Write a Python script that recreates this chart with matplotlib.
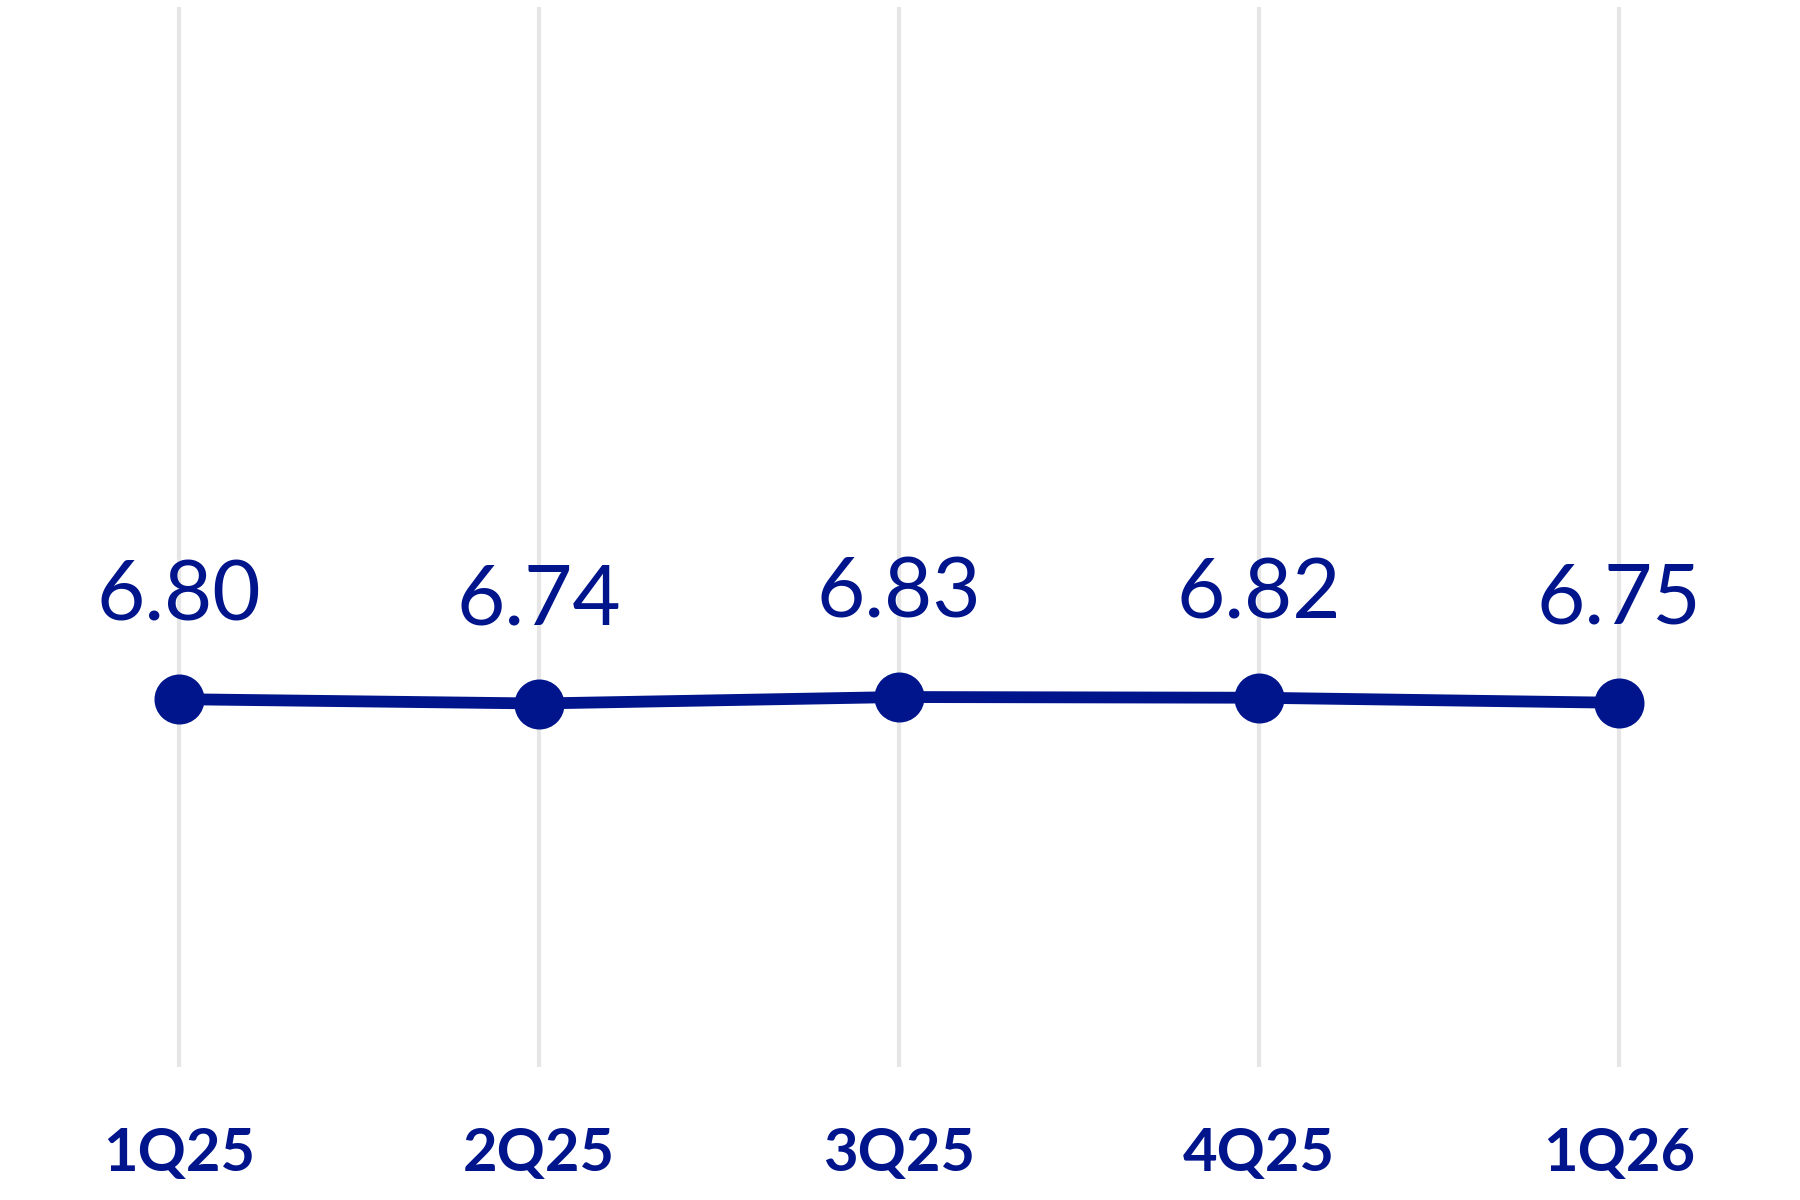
import matplotlib.pyplot as plt
import numpy as np
from matplotlib.transforms import blended_transform_factory

# Quarterly values
quarters = ["1Q25", "2Q25", "3Q25", "4Q25", "1Q26"]
values = [6.80, 6.74, 6.83, 6.82, 6.75]

NAVY = "#00148C"
GRID = "#E6E6E6"

plt.rcParams["font.family"] = ["Lato", "DejaVu Sans"]

fig = plt.figure(figsize=(18, 12), dpi=100)
ax = fig.add_axes([0, 0.111, 1, 0.883])

x = np.arange(len(quarters))

# vertical guide lines at every quarter
ax.vlines(x, 0, 1, transform=blended_transform_factory(ax.transData, ax.transAxes),
          colors=GRID, linewidth=3, zorder=0)

ax.plot(x, values, color=NAVY, linewidth=8.5, marker="o", markersize=35,
        solid_capstyle="butt", zorder=3)

for xi, v in zip(x, values):
    ax.annotate(f"{v:.2f}", (xi, v), xytext=(0, 57), textcoords="offset points",
                ha="center", va="baseline", fontsize=60, color=NAVY)

ax.set_xlim(-0.497, 4.503)
ax.set_ylim(1.7, 16.4)

ax.set_xticks(x)
ax.set_xticklabels(quarters, fontsize=43, fontweight="bold", color=NAVY)
ax.tick_params(axis="x", length=0, pad=43)
ax.set_yticks([])
for s in ax.spines.values():
    s.set_visible(False)

fig.savefig("out.png", dpi=100, facecolor="white")
